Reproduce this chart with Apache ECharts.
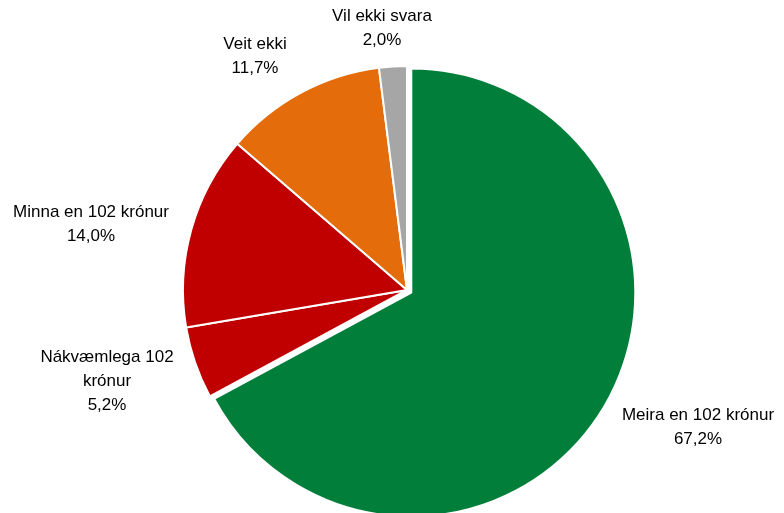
<!DOCTYPE html>
<html>
<head>
<meta charset="utf-8">
<script src="https://cdn.jsdelivr.net/npm/echarts@6/dist/echarts.min.js"></script>
<style>
  html, body { margin: 0; padding: 0; background: #fff; }
  #chart { width: 784px; height: 513px; }
</style>
</head>
<body>
<div id="chart"></div>
<script>
// categories (clockwise from top) and shares in %
const categories = ['Meira en 102 krónur', 'Nákvæmlega 102\nkrónur', 'Minna en 102 krónur', 'Veit ekki', 'Vil ekki svara'];
const values = [67.2, 5.2, 14.0, 11.7, 2.0];
const colors = ['#007E3A', '#C00000', '#C00000', '#E46C0A', '#A6A6A6'];

// label block centres, by slice
const labelPos = [[698, 427], [107, 381], [91, 224], [255, 56], [382, 28]];

const chart = echarts.init(document.getElementById('chart'));

const pieBase = {
    type: 'pie',
    center: [407, 290],
    radius: 224,
    startAngle: 90,
    clockwise: true,
    emphasis: { disabled: true },
    labelLine: { show: false }
};

const option = {
    animation: false,
    series: [
        Object.assign({}, pieBase, {
            selectedMode: 'single',
            selectedOffset: 5,
            itemStyle: { borderColor: '#fff', borderWidth: 2 },
            label: { show: false },
            data: categories.map(function (name, i) {
                return {
                    name: name,
                    value: values[i],
                    selected: i === 0,
                    itemStyle: { color: colors[i] }
                };
            })
        }),
        // labels only
        Object.assign({}, pieBase, {
            silent: true,
            z: 5,
            itemStyle: { color: 'transparent', borderWidth: 0 },
            label: {
                show: true,
                position: 'inner',
                color: '#000',
                fontFamily: 'Liberation Sans, Arial, sans-serif',
                fontSize: 17,
                lineHeight: 24,
                align: 'center',
                overflow: 'none',
                formatter: function (p) {
                    return p.name + '\n' + p.value.toFixed(1).replace('.', ',') + '%';
                }
            },
            labelLayout: function (params) {
                const pos = labelPos[params.dataIndex];
                return { x: pos[0], y: pos[1], align: 'center', verticalAlign: 'middle', rotate: 0 };
            },
            data: categories.map(function (name, i) {
                return { name: name, value: values[i] };
            })
        })
    ]
};

chart.setOption(option);
</script>
</body>
</html>
